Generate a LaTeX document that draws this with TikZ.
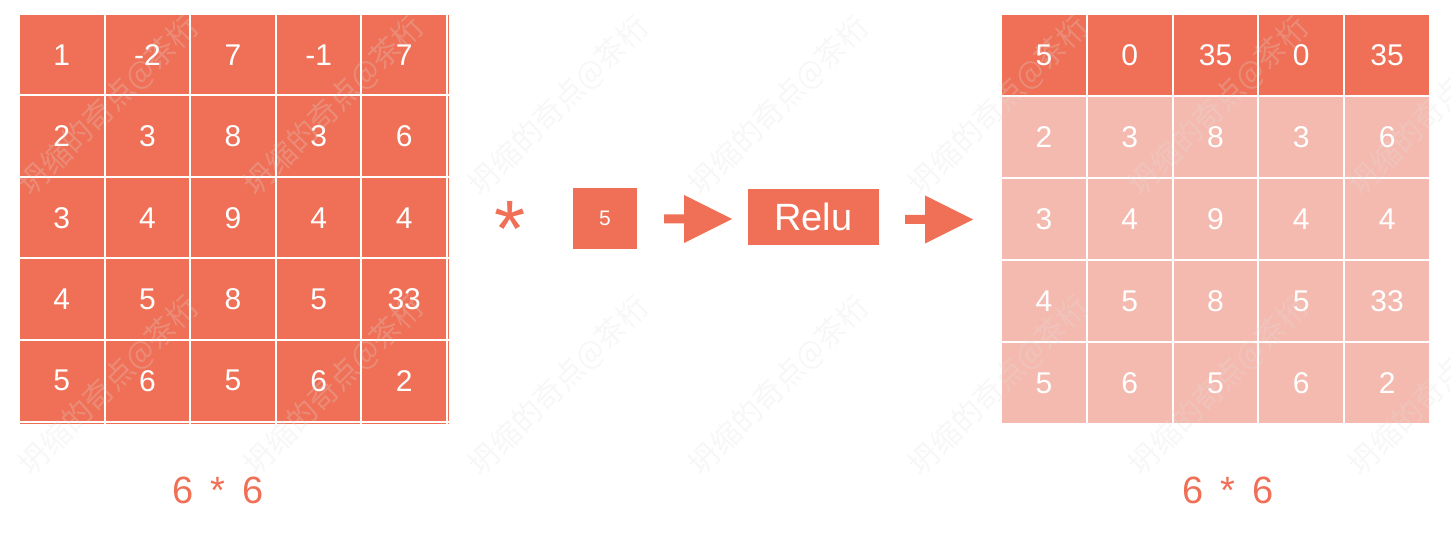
\documentclass[tikz,border=0pt]{standalone}
\usepackage{fontspec}
\setmainfont{Liberation Sans}
\newfontfamily\cjk{Noto Sans CJK SC}
\usetikzlibrary{calc}
\definecolor{hot}{HTML}{EF7056}
\definecolor{pale}{HTML}{F5BAAF}
\tikzset{
  cellbase/.style={inner sep=0pt, outer sep=0pt, text=white, font=\fontsize{30}{30}\selectfont},
  lcell/.style={cellbase, fill=hot, minimum width=83.6pt, minimum height=79.5pt},
  rcell/.style={cellbase, minimum width=83.8pt, minimum height=80pt},
  opbox/.style={fill=hot, text=white, inner sep=0pt, outer sep=0pt},
  sizelabel/.style={text=hot, font=\fontsize{38}{38}\selectfont, anchor=base, inner sep=0pt},
  wm/.style={font=\cjk\fontsize{30}{30}\selectfont, text=gray!25, text opacity=0.25, inner sep=0pt},
}
\newcommand\blkarrow[2]{%
  \fill[hot] let \p1=(#1), \p2=(#2) in
    (\x1,\y1-4.5pt) -- (\x2-48pt,\y1-4.5pt) -- (\x2-48pt,\y1-24pt) -- (\x2,\y1)
    -- (\x2-48pt,\y1+24pt) -- (\x2-48pt,\y1+4.5pt) -- (\x1,\y1+4.5pt) -- cycle;}
\begin{document}
\begin{tikzpicture}[x=1pt,y=-1pt]
\useasboundingbox (0,0) rectangle (1451,534);
\clip (0,0) rectangle (1451,534);
% left grid
\foreach \vals [count=\r from 0] in {{1,-2,7,-1,7},{2,3,8,3,6},{3,4,9,4,4},{4,5,8,5,33},{5,6,5,6,2}}{
  \foreach \v [count=\c from 0] in \vals {
    \node[lcell] (L-\r-\c) at ({61.8+\c*85.6},{54.75+\r*81.5}) {\v};
  }
}
% cropped sixth row / column of the left grid
\foreach \c in {0,...,4} \fill[hot] ({20+\c*85.6},422.7) rectangle ({103.6+\c*85.6},424);
\foreach \r in {0,...,4} \fill[hot] (447.8,{15+\r*81.5}) rectangle (449,{94.5+\r*81.5});
\fill[hot] (447.8,422.7) rectangle (449,424);
% right grid
\foreach \vals [count=\r from 0] in {{5,0,35,0,35},{2,3,8,3,6},{3,4,9,4,4},{4,5,8,5,33},{5,6,5,6,2}}{
  \foreach \v [count=\c from 0] in \vals {
    \ifnum\r=0
      \node[rcell, fill=hot] (R-\r-\c) at ({1043.9+\c*85.8},{55+\r*82}) {\v};
    \else
      \node[rcell, fill=pale] (R-\r-\c) at ({1043.9+\c*85.8},{55+\r*82}) {\v};
    \fi
  }
}
% operator, kernel, relu
\node[text=hot, font=\fontsize{80}{80}\selectfont, anchor=base, inner sep=0pt] (star) at (510,257) {*};
\node[opbox, minimum width=64pt, minimum height=61pt, font=\fontsize{21}{21}\selectfont] (k) at (605,218.5) {5};
\node[opbox, minimum width=131pt, minimum height=56pt, font=\fontsize{38}{38}\selectfont] (relu) at (813.5,217) {Relu};
% arrows
\coordinate (a1s) at ($(k.east)+(27,0.5)$);
\coordinate (a1e) at ($(relu.west)+(-16,2)$);
\blkarrow{a1s}{a1e}
\coordinate (a2s) at ($(relu.east)+(26,2.5)$);
\coordinate (a2e) at ($(R-0-0.west |- a2s)+(-29,0)$);
\blkarrow{a2s}{a2e}
% size labels
\node[sizelabel] (lab1) at (218,503) {6\hspace{0.45em}*\hspace{0.45em}6};
\node[sizelabel] (lab2) at (1228,503) {6\hspace{0.45em}*\hspace{0.45em}6};
% watermarks
\foreach \x in {109,334,559,779,999,1219,1439}
  \foreach \y in {106,386}
    \node[wm, rotate=45] at (\x,\y) {坍缩的奇点@茶桁};
\end{tikzpicture}
\end{document}
